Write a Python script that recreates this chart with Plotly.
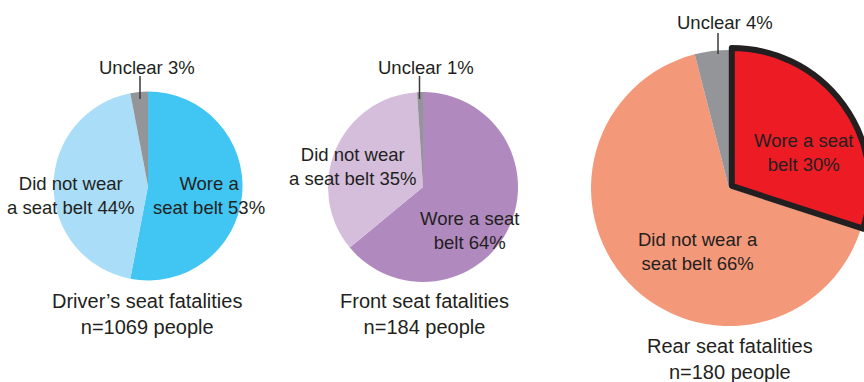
import plotly.graph_objects as go

# ---------------- data ----------------
categories = ["Wore a seat belt", "Did not wear a seat belt", "Unclear"]
driver_values = [53, 44, 3]
front_values = [64, 35, 1]
rear_values = [30, 66, 4]

group_names = ["Driver\u2019s seat fatalities", "Front seat fatalities", "Rear seat fatalities"]
group_n = [1069, 184, 180]

# label text templates (line breaks differ per chart)
driver_label_tpl = ["Wore a<br>seat belt {}%", "Did not wear<br>a seat belt {}%", "Unclear {}%"]
front_label_tpl = ["Wore a seat<br>belt {}%", "Did not wear<br>a seat belt {}%", "Unclear {}%"]
rear_label_tpl = ["Wore a seat<br>belt {}%", "Did not wear a<br>seat belt {}%", "Unclear {}%"]

driver_colors = ["#41C5F3", "#AADEF8", "#939598"]
front_colors = ["#B089BE", "#D5BEDC", "#939598"]
rear_colors = ["#ED1C24", "#F4987A", "#939598"]

# ---------------- layout helpers ----------------
W, H = 880, 382
TXT = "#231F20"
FONT = "Liberation Sans, Arial, sans-serif"


def fx(x):
    return x / W


def fy(y):
    return 1 - y / H


def dom(cx, cy, half):
    return dict(x=[fx(cx - half), fx(cx + half)], y=[fy(cy + half), fy(cy - half)])


fig = go.Figure()

# Driver's seat
fig.add_trace(go.Pie(
    labels=categories, values=driver_values, sort=False, direction="clockwise",
    rotation=0, marker=dict(colors=driver_colors, line=dict(width=0)),
    textinfo="none", hoverinfo="label+percent", domain=dom(148, 186, 94.5),
    showlegend=False,
))

# Front seat
fig.add_trace(go.Pie(
    labels=categories, values=front_values, sort=False, direction="clockwise",
    rotation=0, marker=dict(colors=front_colors, line=dict(width=0)),
    textinfo="none", hoverinfo="label+percent", domain=dom(423, 187, 95),
    showlegend=False,
))

# Rear seat: draw the highlighted slice last so its outline sits on top
order = [1, 2, 0]
rear_pull = 0.025
fig.add_trace(go.Pie(
    labels=[categories[i] for i in order],
    values=[rear_values[i] for i in order],
    sort=False, direction="clockwise",
    rotation=360 * rear_values[0] / sum(rear_values),
    pull=[rear_pull if i == 0 else 0 for i in order],
    marker=dict(
        colors=[rear_colors[i] for i in order],
        line=dict(color=[TXT if i == 0 else "rgba(0,0,0,0)" for i in order],
                  width=[6 if i == 0 else 0 for i in order]),
    ),
    textinfo="none", hoverinfo="label+percent",
    domain=dom(729, 188, 138 * (1 + rear_pull)),
    showlegend=False,
))

annotations = []
shapes = []


def add_text(text, x, y, size):
    annotations.append(dict(
        text=text, x=fx(x), y=fy(y), xref="paper", yref="paper",
        xanchor="center", yanchor="middle", showarrow=False, align="center",
        font=dict(family=FONT, size=size, color=TXT),
    ))


LBL = 18.5
TTL = 20

# label positions: [wore, did not, unclear], plus leader line and title
charts = [
    dict(vals=driver_values, tpl=driver_label_tpl,
         pos=[(209, 195), (71, 195), (147, 67)], lead=(140, 76, 99), title=(147, 314)),
    dict(vals=front_values, tpl=front_label_tpl,
         pos=[(469, 230), (353, 166), (426, 67)], lead=(419.5, 76, 99), title=(424, 314)),
    dict(vals=rear_values, tpl=rear_label_tpl,
         pos=[(803, 152), (698, 251), (725, 22)], lead=(718, 33, 54), title=(730, 359)),
]

for k, c in enumerate(charts):
    for t, v, p in zip(c["tpl"], c["vals"], c["pos"]):
        add_text(t.format(v), p[0], p[1], LBL)
    lx, ly0, ly1 = c["lead"]
    shapes.append(dict(type="line", xref="paper", yref="paper",
                       x0=fx(lx), x1=fx(lx), y0=fy(ly0), y1=fy(ly1),
                       line=dict(color="#3A3A3A", width=1.5)))
    tx, ty = c["title"]
    add_text(f"{group_names[k]}<br>n={group_n[k]} people", tx, ty, TTL)

fig.update_layout(
    width=W, height=H,
    margin=dict(l=0, r=0, t=0, b=0),
    paper_bgcolor="white", plot_bgcolor="white",
    annotations=annotations, shapes=shapes,
    font=dict(family=FONT, color=TXT),
)

fig.write_html(
    "out.html",
    post_script="document.body.style.margin='0';document.body.style.overflow='hidden';"
                "document.documentElement.style.overflow='hidden';",
)
